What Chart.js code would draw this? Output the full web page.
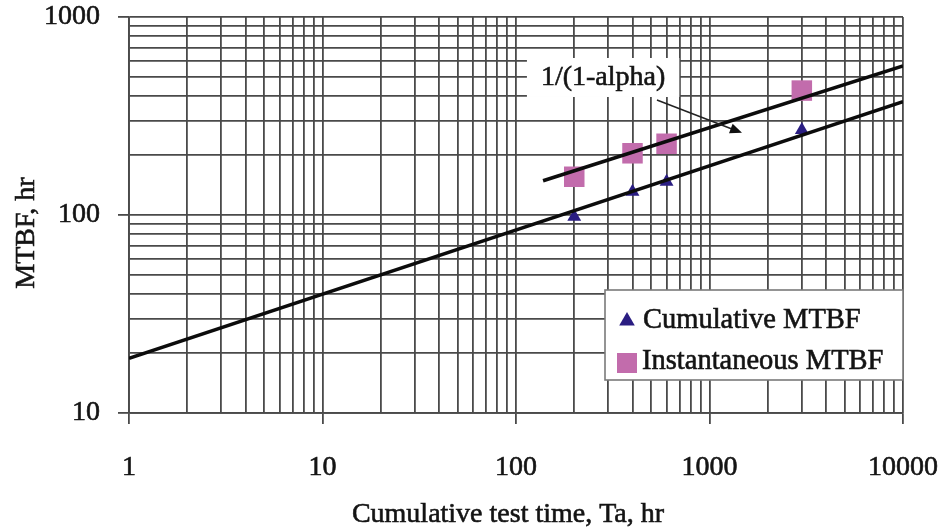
<!DOCTYPE html>
<html>
<head>
<meta charset="utf-8">
<script src="https://cdn.jsdelivr.net/npm/chart.js@4/dist/chart.umd.min.js"></script>
<style>
  html, body { margin: 0; padding: 0; background: #ffffff; }
  #wrap { width: 944px; height: 531px; position: relative; }
</style>
</head>
<body>
<div id="wrap"><canvas id="c" width="944" height="531"></canvas></div>
<script>
// Test points (cumulative test time, hr)
const testTimes = [200, 400, 600, 3000];
const cumulativeMTBF = [98, 131, 147, 269];
const instantaneousMTBF = [156, 205, 229, 425];

// Fitted growth lines, given by their end points
const cumulativeFitX = [1, 10000];
const cumulativeFitY = [18.9, 374];
const instantFitX = [138, 10000];
const instantFitY = [149, 566];

// Axis ticks
const xTickValues = [1, 10, 100, 1000, 10000];
const xTickLabels = ['1', '10', '100', '1000', '10000'];
const yTickValues = [10, 100, 1000];
const yTickLabels = ['10', '100', '1000'];

const seriesNames = ['Cumulative MTBF', 'Instantaneous MTBF'];
const xTitle = 'Cumulative test time, Ta, hr';
const yTitle = 'MTBF, hr';

// Callout text with its box centre and arrow, in data units
const calloutText = '1/(1-alpha)';
const calloutAt = { x: 282, y: 492 };
const arrowFrom = { x: 535, y: 381 };
const arrowTo = { x: 1472, y: 260 };

const FONT = '"Liberation Serif", "Times New Roman", serif';
const TEXT = '#141414';
const TEXT_STROKE = 0.6;
const GRID = '#4a4a4a';
const NAVY = '#2a1d82';
const PINK = '#c26cac';

function toPoints(xs, ys) { return xs.map((x, i) => ({ x, y: ys[i] })); }

// Every 1..9 step inside each decade, used for the grid
function decadeSteps(majors) {
  const out = [];
  for (let i = 0; i < majors.length; i++) {
    out.push(majors[i]);
    if (i < majors.length - 1) {
      for (let k = 2; k <= 9; k++) out.push(majors[i] * k);
    }
  }
  return out;
}

function setTicks(values, majors) {
  return function (scale) {
    scale.ticks = decadeSteps(majors).map(v => ({ value: v, major: values.includes(v) }));
  };
}

function labelFor(values, labels) {
  return function (value) {
    const i = values.indexOf(value);
    return i >= 0 ? labels[i] : '';
  };
}

function majorTickColor(values) {
  return function (ctx) {
    return ctx.tick && values.includes(ctx.tick.value) ? GRID : 'rgba(0,0,0,0)';
  };
}

// Fixed axis box sizes; edge labels are allowed to overhang the plot
function fixSize(prop, size) {
  return function (scale) {
    scale[prop] = size;
    scale.paddingLeft = 0;
    scale.paddingRight = 0;
    scale.paddingTop = 0;
    scale.paddingBottom = 0;
  };
}

function drawTriangle(ctx, x, y, r, color) {
  ctx.beginPath();
  for (let k = 0; k < 3; k++) {
    const a = k * 2 * Math.PI / 3;
    const px = x + Math.sin(a) * r, py = y - Math.cos(a) * r;
    if (k === 0) ctx.moveTo(px, py); else ctx.lineTo(px, py);
  }
  ctx.closePath();
  ctx.fillStyle = color;
  ctx.fill();
}

function text(ctx, s, x, y) {
  ctx.fillStyle = TEXT;
  ctx.strokeStyle = TEXT;
  ctx.lineWidth = TEXT_STROKE;
  ctx.fillText(s, x, y);
  ctx.strokeText(s, x, y);
}

const overlay = {
  id: 'overlay',
  afterDraw(chart) {
    const ctx = chart.ctx;
    const xs = chart.scales.x, ys = chart.scales.y;
    const area = chart.chartArea;
    ctx.save();

    // Callout box and arrow
    ctx.font = '28px ' + FONT;
    const cx = xs.getPixelForValue(calloutAt.x), cy = ys.getPixelForValue(calloutAt.y);
    const tw = ctx.measureText(calloutText).width;
    ctx.fillStyle = '#ffffff';
    ctx.fillRect(cx - tw / 2 - 14, cy - 20, tw + 28, 39);
    ctx.textAlign = 'center';
    ctx.textBaseline = 'middle';
    text(ctx, calloutText, cx, cy);

    const ax = xs.getPixelForValue(arrowFrom.x), ay = ys.getPixelForValue(arrowFrom.y);
    const bx = xs.getPixelForValue(arrowTo.x), by = ys.getPixelForValue(arrowTo.y);
    const ang = Math.atan2(by - ay, bx - ax);
    ctx.strokeStyle = '#222222';
    ctx.lineWidth = 1.5;
    ctx.beginPath();
    ctx.moveTo(ax, ay);
    ctx.lineTo(bx - Math.cos(ang) * 8, by - Math.sin(ang) * 8);
    ctx.stroke();
    ctx.fillStyle = '#111111';
    ctx.beginPath();
    ctx.moveTo(bx, by);
    ctx.lineTo(bx - Math.cos(ang - 0.4) * 13, by - Math.sin(ang - 0.4) * 13);
    ctx.lineTo(bx - Math.cos(ang + 0.4) * 13, by - Math.sin(ang + 0.4) * 13);
    ctx.closePath();
    ctx.fill();

    // Legend box in the lower right of the plot
    const lw = 298, lh = 90;
    const lx = area.right - lw, ly = area.bottom - 33 - lh;
    ctx.fillStyle = '#ffffff';
    ctx.fillRect(lx, ly, lw, lh);
    ctx.strokeStyle = '#7a7a7a';
    ctx.lineWidth = 1.6;
    ctx.strokeRect(lx, ly, lw, lh);

    const ds = chart.data.datasets;
    ctx.textAlign = 'left';
    ctx.textBaseline = 'middle';
    ctx.font = '28.5px ' + FONT;
    drawTriangle(ctx, lx + 22, ly + 31, 9, ds[0].backgroundColor);
    text(ctx, ds[0].label, lx + 38, ly + 31);
    ctx.fillStyle = ds[1].backgroundColor;
    ctx.fillRect(lx + 12, ly + 63, 20, 20);
    text(ctx, ds[1].label, lx + 37, ly + 72);

    // Axis titles
    ctx.font = '28px ' + FONT;
    ctx.textAlign = 'center';
    ctx.textBaseline = 'middle';
    text(ctx, xTitle, (area.left + area.right) / 2 - 8, 515);
    ctx.translate(27, (area.top + area.bottom) / 2 + 18);
    ctx.rotate(-Math.PI / 2);
    text(ctx, yTitle, 0, 0);
    ctx.restore();
  }
};

const tickFont = { family: FONT, size: 28 };

new Chart(document.getElementById('c'), {
  type: 'scatter',
  data: {
    datasets: [
      {
        label: seriesNames[0],
        data: toPoints(testTimes, cumulativeMTBF),
        pointStyle: 'triangle',
        pointRadius: 8,
        backgroundColor: NAVY,
        borderColor: NAVY,
        borderWidth: 0,
        order: 2
      },
      {
        label: seriesNames[1],
        data: toPoints(testTimes, instantaneousMTBF),
        pointStyle: 'rect',
        pointRadius: 14.5,
        backgroundColor: PINK,
        borderColor: PINK,
        borderWidth: 0,
        order: 2
      },
      {
        type: 'line',
        label: 'cumulative fit',
        data: toPoints(cumulativeFitX, cumulativeFitY),
        borderColor: '#0c0c0c',
        borderWidth: 3.5,
        pointRadius: 0,
        fill: false,
        order: 1
      },
      {
        type: 'line',
        label: 'instantaneous fit',
        data: toPoints(instantFitX, instantFitY),
        borderColor: '#0c0c0c',
        borderWidth: 3.5,
        pointRadius: 0,
        fill: false,
        order: 1
      }
    ]
  },
  options: {
    responsive: false,
    animation: false,
    devicePixelRatio: 1,
    layout: { padding: { left: 0, top: 17, right: 41, bottom: 0 } },
    plugins: { legend: { display: false }, tooltip: { enabled: false } },
    scales: {
      x: {
        type: 'logarithmic',
        min: 1,
        max: 10000,
        afterBuildTicks: setTicks(xTickValues, xTickValues),
        afterFit: fixSize('height', 118),
        grid: {
          color: GRID,
          lineWidth: 1.8,
          tickLength: 11,
          tickColor: majorTickColor(xTickValues),
          tickWidth: 1.8
        },
        border: { color: GRID, width: 1.8 },
        ticks: {
          autoSkip: false,
          maxRotation: 0,
          padding: 27,
          color: TEXT,
          textStrokeColor: TEXT,
          textStrokeWidth: TEXT_STROKE,
          font: tickFont,
          callback: labelFor(xTickValues, xTickLabels)
        }
      },
      y: {
        type: 'logarithmic',
        min: 10,
        max: 1000,
        afterBuildTicks: setTicks(yTickValues, yTickValues),
        afterFit: fixSize('width', 129),
        grid: {
          color: GRID,
          lineWidth: 1.8,
          tickLength: 11,
          tickColor: majorTickColor(yTickValues),
          tickWidth: 1.8
        },
        border: { color: GRID, width: 1.8 },
        ticks: {
          autoSkip: false,
          padding: 18,
          color: TEXT,
          textStrokeColor: TEXT,
          textStrokeWidth: TEXT_STROKE,
          font: tickFont,
          callback: labelFor(yTickValues, yTickLabels)
        }
      }
    }
  },
  plugins: [overlay]
});
</script>
</body>
</html>
